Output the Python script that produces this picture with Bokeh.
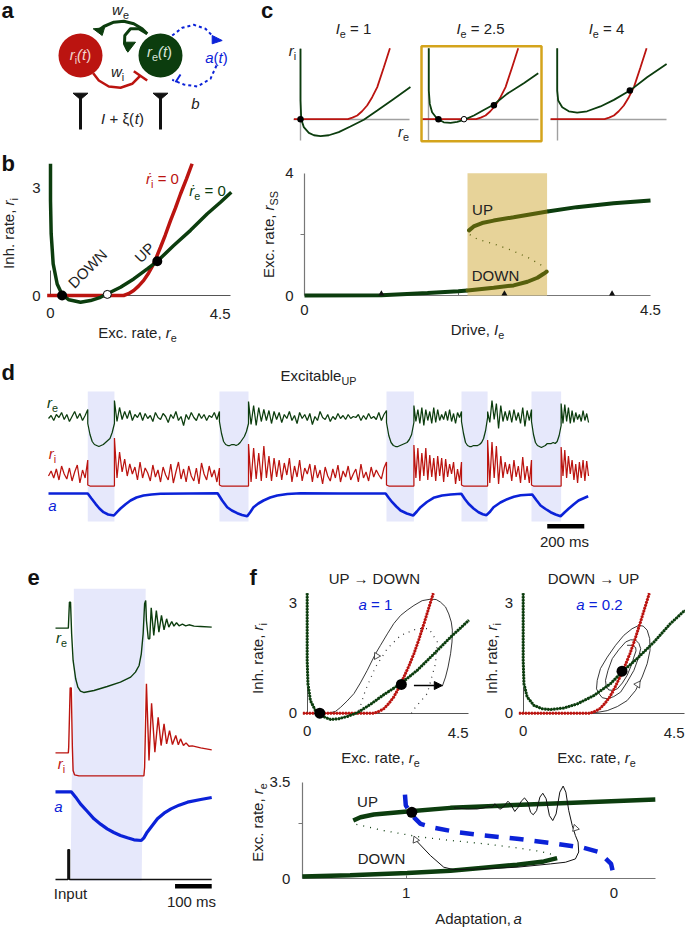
import math
import numpy as np
from bokeh.plotting import figure
from bokeh.layouts import column, row
from bokeh.models import Range1d, LinearAxis, FixedTicker, Arrow, NormalHead
from bokeh.core.properties import value
from bokeh.embed import file_html
from bokeh.resources import INLINE

FONT = "Liberation Sans"
TXT = "#222222"
GREEN = "#0c3d0e"
OLIVE = "#565f0c"
RED = "#bb1410"
BLUE = "#0b22d8"
SHADE = "#e6e8fb"
GOLD = "#d4a41c"

# ---------- panel b: nullclines
b_green_x = [0, 0, .017, .067, .167, .29, .46, .75, 1.0, 1.25, 1.42, 1.75, 2.08, 2.42, 2.67, 3.08, 3.5, 3.92, 4.25, 4.52]
b_green_y = [3.66, 2.64, 1.71, .88, .32, .03, -.12, -.185, -.14, -.05, .05, .23, .46, .74, .95, 1.39, 1.81, 2.27, 2.59, 2.87]
b_red_x = [-.083, 1.83, 1.95, 2.08, 2.2, 2.33, 2.45, 2.58, 2.75, 2.87, 3.0, 3.12, 3.25, 3.4, 3.54]
b_red_y = [0, 0, .05, .14, .26, .42, .62, .88, 1.34, 1.68, 2.08, 2.42, 2.82, 3.24, 3.66]
b_fixed_x = [.29, 2.67]
b_fixed_y = [0, .95]
b_open_x = [1.42]
b_open_y = [.03]

# ---------- panel c: small phase planes
c_red_x = [-.26, 1.87, 2.05, 2.24, 2.43, 2.63, 2.83, 3.03, 3.29, 3.53]
c_red_y = [0, 0, .08, .19, .41, .71, 1.14, 1.66, 2.69, 3.67]
c1_green_x = [0, 0, .03, .13, .33, .53, .79, 1.12, 1.51, 1.97, 2.5, 3.03, 3.68, 4.34]
c1_green_y = [3.64, .97, 0, -.41, -.71, -.83, -.88, -.83, -.67, -.38, -.03, .45, 1.05, 1.66]
c2_green_x = [0, 0, .04, .13, .33, .59, .86, 1.12, 1.41, 1.78, 2.17, 2.57, 3.09, 3.75, 4.32]
c2_green_y = [3.67, 1.48, .79, .36, .02, -.16, -.19, -.14, -.02, .19, .48, .76, 1.31, 1.86, 2.38]
c3_green_x = [0, 0, .04, .2, .46, .79, 1.18, 1.71, 2.24, 2.87, 3.55, 4.32]
c3_green_y = [3.67, 1.48, .97, .62, .41, .34, .41, .66, 1.0, 1.48, 2.17, 2.86]

# ---------- panel c: bifurcation diagram
cb_low_x = [0, 1.0, 1.6, 2.0, 2.12, 2.46, 2.72, 2.9, 3.03, 3.11, 3.15]
cb_low_y = [0, .01, .08, .14, .16, .25, .33, .45, .58, .71, .78]
cb_up_x = [2.14, 2.2, 2.31, 2.46, 2.72, 3.16, 3.54, 4.02, 4.5]
cb_up_y = [2.13, 2.26, 2.37, 2.45, 2.56, 2.75, 2.89, 3.02, 3.11]
cb_mid_x = [2.15, 2.25, 2.46, 2.68, 2.9, 3.07, 3.13]
cb_mid_y = [1.99, 1.84, 1.69, 1.49, 1.25, 1.01, .84]
cb_marks = [1, 2.6, 4]
cb_band = [2.12, 3.155]

# ---------- panel d: time courses (ms); each state has its own list of samples
d_edges = [0, 212, 356, 923, 1080, 1825, 1973, 2230, 2371, 2608, 2768, 2916]
d_re = [
    [29, 32, 27, 33, 30, 35, 28, 33, 26, 31, 36, 29, 34, 27, 32, 38],
    [24, 13, 6, 3, 2, 1, 2, 3, 5, 7, 9, 15, 24],
    [47, 26, 40, 28, 36, 29, 37, 27, 33, 30, 35, 27, 34, 29, 32, 26, 35, 30, 28, 34, 31, 25, 33, 29, 36, 27, 31, 22, 33, 28, 35, 30, 27, 34, 29, 33, 27, 32, 30, 35, 28, 36],
    [26, 14, 6, 3, 2, 2, 3, 3, 2, 3, 5, 8, 11, 16, 24],
    [46, 23, 42, 22, 40, 26, 38, 27, 37, 24, 36, 28, 35, 25, 33, 29, 36, 27, 32, 24, 35, 29, 33, 27, 34, 23, 31, 27, 36, 30, 28, 33, 26, 31, 28, 34, 29, 32, 28, 33, 29, 31, 30, 33, 27, 32, 28, 34, 29, 31, 28, 35, 27, 33, 37],
    [25, 12, 5, 2, 1, 1, 2, 3, 4, 5, 8, 13, 25],
    [42, 26, 38, 24, 40, 22, 38, 27, 36, 24, 40, 25, 38, 27, 33, 28, 36, 27, 38, 26, 34, 24, 35, 30, 36],
    [26, 14, 5, 2, 1, 1, 2, 2, 2, 3, 5, 9, 17, 30],
    [36, 25, 47, 28, 44, 19, 42, 26, 36, 27, 37, 25, 38, 27, 35, 24, 40, 21, 37, 27, 38],
    [26, 13, 5, 2, 1, 0, 1, 2, 4, 4, 4, 5, 4, 6, 12, 22],
    [44, 24, 43, 26, 40, 24, 37, 25, 35, 28, 33, 26, 37, 27, 34, 25],
]
d_ri = [
    [10, 15, 8, 17, 6, 20, 12, 7, 18, 5, 14, 21, 3, 16, 8, 26],
    [1, 0, 0, 0, 0, 0, 0, 0, 0, 0, 0, 0, 0],
    [48, 8, 34, 14, 27, 10, 22, 12, 19, 6, 24, 8, 18, 13, 5, 21, 9, 16, 4, 19, 11, 6, 22, 3, 14, 24, 7, 17, 4, 20, 10, 5, 18, 2, 23, 12, 6, 20, 9, 16, 4, 18],
    [1, 0, 0, 0, 0, 0, 0, 0, 0, 0, 0, 0, 0, 0, 0],
    [42, 4, 38, 7, 33, 5, 40, 8, 30, 5, 28, 9, 26, 6, 23, 11, 28, 4, 20, 9, 26, 5, 18, 12, 22, 4, 21, 8, 16, 2, 19, 10, 5, 17, 8, 21, 4, 15, 9, 20, 6, 12, 17, 4, 22, 8, 14, 5, 19, 9, 16, 11, 7, 18, 24],
    [1, 0, 0, 0, 0, 0, 0, 0, 0, 0, 0, 0, 0],
    [41, 8, 38, 5, 33, 10, 38, 6, 31, 9, 28, 5, 30, 10, 28, 4, 27, 9, 22, 12, 24, 2, 17, 5, 24],
    [1, 0, 0, 0, 0, 0, 0, 0, 0, 0, 0, 0, 0, 0],
    [46, 3, 44, 8, 40, 2, 30, 8, 24, 12, 22, 5, 26, 9, 20, 3, 29, 6, 20, 3, 26],
    [1, 0, 0, 0, 0, 0, 0, 0, 0, 0, 0, 0, 0, 0, 0, 0],
    [39, 10, 36, 8, 30, 12, 26, 6, 22, 3, 24, 8, 26, 5, 25, 10],
]
d_a_t = [0, 212, 232, 254, 275, 297, 322, 353, 371, 389, 416, 443, 475, 513, 556, 605, 913, 938, 965, 990, 1019, 1045, 1073, 1090, 1107, 1133, 1161, 1197, 1235, 1290, 1361, 1577, 1820, 1838, 1856, 1878, 1901, 1935, 1969, 1989, 2009, 2043, 2079, 2125, 2171, 2229, 2248, 2268, 2295, 2322, 2345, 2365, 2385, 2403, 2440, 2477, 2513, 2549, 2612, 2634, 2657, 2684, 2711, 2738, 2765, 2786, 2808, 2835, 2862, 2914]
d_a = [22, 22, 17, 11.7, 7, 3.3, 1, 0, 3.7, 7, 11.3, 15, 18, 20, 21, 21.7, 22.3, 15, 8.3, 5, 2.3, .5, -.7, 3.5, 8.3, 12, 15, 18, 20, 21.5, 22.3, 22, 22, 17.5, 13.3, 9, 5, 2, 0, 4, 8.3, 13.5, 17.7, 20, 21, 21.7, 16.5, 11.7, 7, 3.3, 1.3, .3, 4, 8.3, 13, 16.3, 18.7, 20.3, 21, 15.5, 10, 6.5, 3.3, 1, -.7, 3, 6.7, 11, 15, 19.3]
d_band_start = [212, 923, 1825, 2230, 2608]
d_band_end = [356, 1080, 1973, 2371, 2768]

# ---------- panel e: single transition (ms)
e_re_t = [0, 35, 38, 41, 44, 48, 55, 61, 68, 77, 105, 141, 177, 205, 218, 228, 234, 239, 243, 246, 248, 253, 257, 261, 268, 275, 282, 289, 296, 303, 309, 317, 323, 330, 337, 346, 355, 364, 378, 396, 426]
e_re = [197, 197, 275, 275, 180, 100, 45, 20, 8, 4, 10, 22, 35, 50, 65, 85, 120, 180, 270, 280, 220, 165, 165, 258, 175, 250, 185, 235, 192, 225, 200, 217, 203, 213, 204, 209, 204, 207, 203, 202, 200]
e_ri_t = [0, 35, 36, 40, 43, 46, 48, 52, 64, 241, 243, 248, 255, 262, 271, 280, 288, 296, 303, 311, 319, 328, 335, 341, 349, 356, 364, 373, 396, 426]
e_ri = [73, 73, 90, 268, 268, 90, 20, 7, 4, 4, 30, 280, 50, 222, 75, 180, 95, 160, 100, 140, 98, 125, 97, 115, 95, 103, 93, 94, 88, 82]
e_a_t = [0, 43, 55, 68, 87, 105, 123, 141, 159, 177, 196, 214, 234, 241, 250, 264, 278, 296, 315, 337, 360, 396, 426]
e_a = [146, 146, 130, 110, 87, 65, 49, 35, 24, 15, 8, 2, 0, 8, 25, 45, 65, 82, 95, 106, 115, 123, 129]
e_in_t = [0, 34, 34, 38, 38, 426]
e_in = [0, 0, 89, 89, 0, 0]
e_band_t = [50, 246, 243, 238, 235, 41, 44, 50]
e_band_y = [1, 1, .66, .32, 0, 0, .32, .66]

# ---------- panel f
f1_green_x = [0, 0, .02, .09, .23, .37, .65, .88, 1.11, 1.39, 1.76, 2.13, 2.6, 3.06, 3.53, 3.99, 4.5]
f1_green_y = [3.25, 1.43, .8, .34, .07, -.06, -.17, -.15, -.09, .01, .24, .5, .8, 1.16, 1.61, 2.06, 2.52]
f_red_x = [-.12, 1.86, 2.0, 2.13, 2.27, 2.41, 2.55, 2.69, 2.83, 2.97, 3.11, 3.25, 3.38, 3.51]
f_red_y = [0, 0, .05, .12, .26, .44, .69, .98, 1.28, 1.61, 2.0, 2.43, 2.84, 3.25]
f1_traj_x = [.6, .79, .93, 1.11, 1.3, 1.48, 1.67, 1.9, 2.04, 2.23, 2.41, 2.6, 2.78, 2.97, 3.2, 3.43, 3.59, 3.71, 3.85, 3.94, 4.01, 4.04, 4.03, 3.99, 3.92, 3.85, 3.76]
f1_traj_y = [0, .05, .16, .33, .53, .82, 1.16, 1.61, 1.84, 2.15, 2.43, 2.65, 2.79, 2.92, 3.05, 3.09, 3.08, 3.01, 2.88, 2.69, 2.47, 2.25, 1.93, 1.61, 1.25, .98, .73]
f1_dot_x = [1.44, 1.62, 1.9, 2.23, 2.6, 3.06, 3.39, 3.62, 3.57, 3.34, 3.01, 2.83]
f1_dot_y = [.07, .62, 1.25, 1.75, 2.11, 2.29, 2.29, 1.93, 1.34, .53, .16, -.11]
f2_green_x = [0, 0, .02, .11, .3, .53, .76, 1.13, 1.5, 1.97, 2.43, 2.75, 3.17, 3.64, 4.1, 4.5]
f2_green_y = [3.25, 1.43, .8, .44, .21, .12, .1, .14, .25, .48, .8, 1.12, 1.48, 1.93, 2.43, 2.79]
f2_traj_x = [1.87, 2.11, 2.34, 2.62, 2.89, 3.13, 3.31, 3.45, 3.53, 3.52, 3.45, 3.34, 3.22, 3.03, 2.8, 2.57, 2.34, 2.15, 2.06, 2.04, 2.11, 2.2, 2.34, 2.52, 2.71, 2.89, 3.08, 3.2, 3.27, 3.22, 3.13, 2.99, 2.85, 2.66, 2.48, 2.36, 2.29, 2.31, 2.38, 2.48, 2.62, 2.76, 2.89, 3.01, 3.08, 3.14, 3.13, 3.03, 2.89]
f2_traj_y = [0, .03, .07, .18, .34, .62, .98, 1.34, 1.7, 2.02, 2.25, 2.36, 2.38, 2.29, 2.11, 1.84, 1.52, 1.21, .89, .66, .53, .42, .39, .45, .57, .84, 1.16, 1.48, 1.75, 1.89, 1.98, 1.99, 1.93, 1.72, 1.48, 1.16, .89, .73, .63, .62, .66, .82, 1.02, 1.3, 1.52, 1.69, 1.78, 1.84, 1.84]
f3_up_a = [1.255, 1.22, 1.156, .995, .787, .546, .225, -.2]
f3_up_r = [2.11, 2.23, 2.33, 2.44, 2.57, 2.65, 2.75, 2.87]
f3_low_a = [1.5, 1.27, .995, .787, .626, .466, .337, .273]
f3_low_r = [.08, .13, .21, .29, .4, .51, .63, .75]
f3_mid_a = [1.24, 1.11, .947, .787, .626, .466, .353, .276]
f3_mid_r = [1.97, 1.75, 1.53, 1.39, 1.27, 1.12, .99, .84]
f3_null_a = [1.006, 1.002, .971, .931, .867, .754, .626, .466, .305, .144, .072, .013, -.003]
f3_null_r = [3.05, 2.66, 2.29, 1.99, 1.85, 1.69, 1.57, 1.45, 1.3, 1.12, .97, .54, 0]
f3_traj_a = [.77, .706, .658, .626, .602, .586, .573, .562, .549, .533, .51, .498, .477, .461, .446, .43, .414, .401, .388, .372, .356, .342, .326, .31, .294, .278, .26, .244, .231, .217, .2, .185, .172, .169, .185, .233, .305, .466, .626, .77, .819, .883, .955]
f3_traj_r = [2.57, 2.53, 2.53, 2.57, 2.62, 2.59, 2.72, 2.62, 2.52, 2.59, 2.81, 2.72, 2.44, 2.59, 2.81, 2.93, 2.78, 2.41, 2.32, 2.47, 2.96, 3.1, 2.9, 2.29, 2.11, 2.35, 3.14, 3.36, 3.14, 2.47, 1.93, 1.57, 1.33, .97, .72, .6, .54, .42, .36, .33, .42, .84, 1.41]

# ---------- panel a: schematic
a_green_outer = ([146.7, 141.7, 133.3, 123.3, 113.3, 103.3, 96.7], [33.3, 28.3, 23.3, 20.7, 21.7, 26, 30.7])
a_green_inner = ([146.7, 138.3, 130, 124.3, 124, 127.3], [33.3, 28.3, 28.3, 35, 43.3, 50])
a_red_arc = ([92.7, 98.3, 108.3, 120, 131.7, 140], [72.7, 80, 86, 87.3, 83.3, 75])
a_blue_top = ([171.7, 181.7, 193.3, 205, 213.3], [35, 27.3, 24.3, 28.3, 36.7])
a_blue_bot = ([216, 210, 196.7, 183.3, 171.7], [65, 78.3, 86, 84, 79.3])

WIDTHS = {' ': .278, '.': .278, ',': .278, 'E': .667, 'x': .5, 'c': .5, 'r': .333, 'a': .556, 't': .278, 'e': .556,
          'I': .278, 'n': .556, 'h': .556, '=': .584, 'U': .722, 'P': .667, 'D': .722, 'O': .778, 'W': .944, 'N': .722,
          'i': .222, 'l': .222, '(': .333, ')': .333, '+': .584, 'w': .722, 'v': .5, 'p': .556, 'd': .556, 'b': .556,
          'm': .833, 's': .5, 'S': .667, '\u2192': 1.0, 'f': .278, '\u1e59': .333, '\u03be': .49}
GEO = {}


def tw(s, size):
    return sum(WIDTHS.get(c, .556) for c in s) * size


def anchored(lo, hi, v0, p0, v1, p1):
    k = (v1 - v0) / (p1 - p0)
    return v0 + (lo - p0) * k, v0 + (hi - p0) * k


def panel(left, top, right, bottom, xa, ya):
    xs, xe = anchored(left, right, *xa)
    ys, ye = anchored(bottom, top, *ya)
    p = figure(width=right - left, height=bottom - top, x_range=Range1d(xs, xe), y_range=Range1d(ys, ye),
               output_backend="svg", toolbar_location=None, x_axis_location=None, y_axis_location=None,
               min_border=0, outline_line_color=None, background_fill_alpha=0, border_fill_alpha=0)
    p.grid.visible = False
    GEO[p.id] = (left, top, (xe - xs) / (right - left), (ye - ys) / (top - bottom), xs, ys, bottom)
    return p


def to_data(p, px, py):
    left, top, kx, ky, xs, ys, bottom = GEO[p.id]
    return xs + (px - left) * kx, ys + (py - bottom) * ky


def extra(p, name, v0, p0, v1, p1):
    left, top, kx, ky, xs, ys, bottom = GEO[p.id]
    s, e = anchored(bottom, top, v0, p0, v1, p1)
    p.extra_y_ranges[name] = Range1d(s, e)


def label(p, px, py, segs, size=15, color=TXT, angle=0, align="center", bold=False):
    if isinstance(segs, str):
        segs = [(segs, "")]
    sizes = [size * .72 if "s" in st else size for _, st in segs]
    widths = [tw(t, s) for (t, _), s in zip(segs, sizes)]
    total = sum(widths)
    d = {"center": -total / 2, "right": -total, "left": 0}[align]
    x, y = to_data(p, px, py)
    ca, sa = math.cos(angle), math.sin(angle)
    for (t, st), s, w in zip(segs, sizes, widths):
        e = size * .35 if "s" in st else 0
        style = "bold" if bold else ("italic" if "i" in st else "normal")
        lead = (len(t) - len(t.lstrip())) * .278 * s
        dd = d + lead
        p.text(x=[x], y=[y], text=[t.strip()], x_offset=[dd * ca + e * sa], y_offset=[-dd * sa + e * ca], angle=angle,
               text_font=value(FONT), text_font_size=f"{s:.1f}px", text_font_style=style, text_color=color,
               text_align="left", text_baseline="middle")
        d += w


def axes(p, xb=None, yb=None, xticks=(), yticks=(), xminor=(), yminor=(), color="#666666", lw=1.0,
         xstand=10, ystand=8, tick_in=3, tick_out=4, xat=0, yat=0, size=15):
    def common(ax):
        ax.level = "underlay"
        ax.axis_line_color = color
        ax.axis_line_width = lw
        ax.major_tick_line_color = color
        ax.minor_tick_line_color = color
        ax.major_label_text_font = FONT
        ax.major_label_text_font_size = f"{size}px"
        ax.major_label_text_color = TXT
        ax.major_tick_in = 0
        ax.major_tick_out = 0
    xax = LinearAxis(fixed_location=yat, bounds=xb, ticker=FixedTicker(ticks=list(xticks), minor_ticks=list(xminor)))
    common(xax)
    xax.minor_tick_in = tick_in
    xax.minor_tick_out = 0
    xax.major_label_standoff = xstand
    yax = LinearAxis(fixed_location=xat, bounds=yb, ticker=FixedTicker(ticks=list(yticks), minor_ticks=list(yminor)))
    common(yax)
    yax.minor_tick_in = 0
    yax.minor_tick_out = tick_out
    yax.major_label_standoff = ystand
    p.add_layout(xax, "below")
    p.add_layout(yax, "left")


def letter(p, px, py, s):
    label(p, px, py, s, size=22, color="#111111", bold=True)


RE = [("r", "i"), ("e", "s")]
RI = [("r", "i"), ("i", "s")]
EXC = [("Exc. rate, ", "")] + RE
INH = [("Inh. rate, ", "")] + RI
VERT = math.pi / 2

# ================= panel a
pa = panel(0, 0, 250, 150, (0, 0, 1, 1), (0, 0, 1, 1))
pa.line(*a_green_outer, line_color=GREEN, line_width=3)
pa.line(*a_green_inner, line_color=GREEN, line_width=3)
pa.patch([92.7, 104, 101.7], [28.3, 27.3, 35], color=GREEN)
pa.patch([123.3, 135, 127.3], [41.7, 41.7, 51.7], color=GREEN)
pa.line(*a_red_arc, line_color=RED, line_width=2.5)
pa.line([133.3, 146.7], [70.7, 80], line_color=RED, line_width=2.5)
pa.line(*a_blue_top, line_color=BLUE, line_width=2, line_dash="3 3")
pa.line(*a_blue_bot, line_color=BLUE, line_width=2, line_dash="3 3")
pa.patch([211.7, 221.7, 211.7], [35, 40, 43.3], color=BLUE)
pa.line([175, 180], [81.7, 74], line_color=BLUE, line_width=2)
pa.scatter([80, 160], [55, 55], size=44, marker="circle", fill_color=[RED, GREEN], line_color=None)
for sx in (80, 160):
    pa.line([sx, sx], [94, 129], line_color="#111111", line_width=3)
    pa.patch([sx - 7.5, sx + 7.5, sx], [92.7, 92.7, 99], color="#111111")
label(pa, 80, 54, [("r", "i"), ("i", "s"), ("(", "i"), ("t", "i"), (")", "")], color="#f2d5cc", size=15)
label(pa, 159, 51, [("r", "i"), ("e", "s"), ("(", "i"), ("t", "i"), (")", "")], color="#d8e4d8", size=15)
label(pa, 216, 57, [("a", "i"), ("(", ""), ("t", "i"), (")", "")], color=BLUE)
label(pa, 195, 103, [("b", "i")])
label(pa, 120, 9, [("w", "i"), ("e", "s")])
label(pa, 117, 71, [("w", "i"), ("i", "s")])
label(pa, 122, 118, [("I", "i"), (" + \u03be(", ""), ("t", "i"), (")", "")])
letter(pa, 7, 10, "a")

# ================= panel b
pb = panel(0, 150, 250, 345, (0, 50, 1, 90), (0, 295, 1, 259))
axes(pb, xb=(0, 4.5), yb=(0, .7), xticks=[0], yticks=[0, 3], color="#555555", xstand=12, ystand=10)
pb.line(b_red_x, b_red_y, line_color=RED, line_width=3.5)
pb.line(b_green_x, b_green_y, line_color=GREEN, line_width=3.5)
pb.scatter(b_fixed_x, b_fixed_y, size=10, marker="circle", fill_color="black", line_color=None)
pb.scatter(b_open_x, b_open_y, size=8, marker="circle", fill_color="white", line_color="black", line_width=1)
label(pb, 230, 313, "4.5", align="right")
label(pb, 137, 332, EXC)
label(pb, 8, 233, INH, angle=VERT)
label(pb, 162, 178, [("\u1e59", "i"), ("i", "s"), (" = 0", "")], color=RED)
label(pb, 207, 190, [("\u1e59", "i"), ("e", "s"), (" = 0", "")], color=GREEN)
label(pb, 87, 268, "DOWN", angle=math.pi / 4)
label(pb, 144, 252, "UP", angle=math.pi / 4)
letter(pb, 7, 163, "b")

# ================= panel c, small
def small(left, right, zero, green_x, green_y, dots_x, dots_y, open_x, open_y):
    p = panel(left, 0, right, 150, (0, zero, 1, zero + 76 / 3), (0, 118.7, 1, 118.7 - 58 / 3))
    axes(p, xb=(-.26, 4.32), yb=(-1.1, 3.64), color="#a0a0a0", lw=1.4)
    p.line(c_red_x, c_red_y, line_color=RED, line_width=1.8)
    p.line(green_x, green_y, line_color=GREEN, line_width=1.8)
    p.scatter(dots_x, dots_y, size=6.5, marker="circle", fill_color="black", line_color=None)
    if open_x:
        p.scatter(open_x, open_y, size=5.5, marker="circle", fill_color="white", line_color="black", line_width=1)
    return p


pc1 = small(250, 415, 300, c1_green_x, c1_green_y, [0], [0], [], [])
pc2 = small(415, 546, 428.3, c2_green_x, c2_green_y, [.38, 2.57], [0, .72], [1.39], [0])
pc3 = small(546, 685, 556.67, c3_green_x, c3_green_y, [2.87], [1.48], [], [])
gx0, gy0 = to_data(pc2, 421, 140.7)
gx1, gy1 = to_data(pc2, 541, 45.7)
pc2.quad(left=[gx0], right=[gx1], bottom=[gy0], top=[gy1], fill_color=None, line_color=GOLD, line_width=2.5)
label(pc1, 353, 28, [("I", "i"), ("e", "s"), (" = 1", "")])
label(pc2, 480, 28, [("I", "i"), ("e", "s"), (" = 2.5", "")])
label(pc3, 606, 28, [("I", "i"), ("e", "s"), (" = 4", "")])
label(pc1, 292, 50, RI)
label(pc1, 403, 131, RE)
letter(pc1, 266, 10, "c")

# ================= panel c, bifurcation
pcb = panel(250, 150, 685, 345, (0, 304, 4.5, 650), (0, 295, 4, 172.7))
axes(pcb, xb=(0, 4.5), yb=(0, 4), xticks=[0, 4.5], yticks=[0, 4], xminor=[1, 2, 3, 4], yminor=[2],
     color="#777777", lw=1.2, xstand=9, ystand=7)
pcb.quad(left=[cb_band[0]], right=[cb_band[1]], bottom=[0], top=[4], fill_color="#e7d399", line_color=None)
pcb.line(cb_low_x[:5], cb_low_y[:5], line_color=GREEN, line_width=4)
pcb.line(cb_low_x[4:], cb_low_y[4:], line_color=OLIVE, line_width=4, line_cap="round")
pcb.line(cb_up_x[:6], cb_up_y[:6], line_color=OLIVE, line_width=4, line_cap="round")
pcb.line(cb_up_x[5:], cb_up_y[5:], line_color=GREEN, line_width=4)
pcb.line(cb_mid_x, cb_mid_y, line_color=OLIVE, line_width=1.3, line_dash="1 6")
pcb.scatter(cb_marks, [.06] * 3, size=6, marker="triangle", fill_color="#111111", line_color=None)
label(pcb, 482, 209, "UP")
label(pcb, 495, 275, "DOWN")
label(pcb, 477, 329, [("Drive, ", ""), ("I", "i"), ("e", "s")])
label(pcb, 268, 234, [("Exc. rate, ", ""), ("r", "i"), ("SS", "s")], angle=VERT)

# ================= panel d
pd_ = panel(0, 345, 685, 553, (0, 48, 200, 85.04), (0, 521, 1, 391))
extra(pd_, "re", 0, 447, 10, 437)
extra(pd_, "ri", 0, 485.5, 10, 475.5)
extra(pd_, "a", 0, 515, 10, 505)
pd_.quad(left=d_band_start, right=d_band_end, bottom=[0] * 5, top=[1] * 5, fill_color=SHADE, line_color=None)


def stitched(segs):
    ts, vs = [], []
    for i, s in enumerate(segs):
        ts.append(np.linspace(d_edges[i], d_edges[i + 1], len(s)))
        vs.append(np.array(s, dtype=float))
    return np.concatenate(ts), np.concatenate(vs)


t_re, v_re = stitched(d_re)
t_ri, v_ri = stitched(d_ri)
pd_.line(t_re, v_re, y_range_name="re", line_color=GREEN, line_width=1.25)
pd_.line(t_ri, v_ri, y_range_name="ri", line_color=RED, line_width=1.25)
pd_.line(d_a_t, d_a, y_range_name="a", line_color=BLUE, line_width=2.6)
pd_.line([2693, 2893], [-.036, -.036], line_color="black", line_width=4.5)
label(pd_, 564, 541, "200 ms")
label(pd_, 318, 375, [("Excitable", ""), ("UP", "s")])
label(pd_, 52, 402, RE, color=GREEN)
label(pd_, 52, 453, RI, color=RED)
label(pd_, 52, 505, [("a", "i")], color=BLUE)
letter(pd_, 7, 372, "d")

# ================= panel e
pe = panel(0, 553, 245, 927, (0, 55, 100, 91.67), (0, 880, 1, 588.3))
extra(pe, "re", 0, 693.3, 300, 593.3)
extra(pe, "ri", 0, 776.7, 300, 676.7)
extra(pe, "a", 0, 840, 300, 740)
extra(pe, "in", 0, 879, 300, 779)
pe.patch(e_band_t, e_band_y, fill_color=SHADE, line_color=None)
pe.line(e_re_t, e_re, y_range_name="re", line_color=GREEN, line_width=1.4)
pe.line(e_ri_t, e_ri, y_range_name="ri", line_color=RED, line_width=1.4)
pe.line(e_a_t, e_a, y_range_name="a", line_color=BLUE, line_width=3.2)
pe.line(e_in_t, e_in, y_range_name="in", line_color="#111111", line_width=1.6)
pe.line([326, 426], [-.02, -.02], line_color="black", line_width=4.5)
label(pe, 70, 893, "Input")
label(pe, 191, 901, "100 ms")
label(pe, 61, 637, RE, color=GREEN)
label(pe, 61, 763, RI, color=RED)
label(pe, 58, 806, [("a", "i")], color=BLUE)
letter(pe, 33, 577, "e")

# ================= panel f, phase planes
def phase(left, right, zero, green_x, green_y, traj_x, traj_y):
    p = panel(left, 553, right, 770, (0, zero, 4.5, zero + 161.7), (0, 712.7, 3, 602))
    axes(p, xb=(0, 4.5), yb=(0, .7), xticks=[0], yticks=[0, 3], color="#555555", xstand=13, ystand=10)
    p.line(traj_x, traj_y, line_color="#222222", line_width=.9)
    p.line(f_red_x, f_red_y, line_color=RED, line_width=1.6)
    p.line(f_red_x, f_red_y, line_color=RED, line_width=3, line_dash="2 1")
    p.line(green_x, green_y, line_color=GREEN, line_width=1.6)
    p.line(green_x, green_y, line_color=GREEN, line_width=3, line_dash="2 1")
    return p


pf1 = phase(245, 480, 306.7, f1_green_x, f1_green_y, f1_traj_x, f1_traj_y)
pf2 = phase(480, 685, 522.7, f2_green_x, f2_green_y, f2_traj_x, f2_traj_y)
pf1.line(f1_dot_x, f1_dot_y, line_color="#333333", line_width=1.2, line_dash="1 5")
pf1.add_layout(Arrow(end=NormalHead(size=8, fill_color="black", line_color="black"),
                     x_start=2.97, y_start=.75, x_end=3.76, y_end=.75, line_color="black", line_width=1.5))
pf1.scatter([.35, 2.62], [0, .78], size=11, marker="circle", fill_color="black", line_color=None)
pf2.scatter([2.75], [1.14], size=11, marker="circle", fill_color="black", line_color=None)
pf1.scatter([1.93], [1.55], size=7, marker="triangle", angle=2.6, fill_color="white", line_color="#222222", line_width=.8)
pf2.scatter([3.19], [.78], size=7, marker="triangle", angle=-.6, fill_color="white", line_color="#222222", line_width=.8)
label(pf1, 468, 732, "4.5", align="right")
label(pf2, 684, 732, "4.5", align="right")
label(pf1, 380, 757, EXC)
label(pf2, 596, 757, EXC)
label(pf1, 257, 658, INH, angle=VERT)
label(pf2, 491, 658, INH, angle=VERT)
label(pf1, 374, 578, "UP \u2192 DOWN")
label(pf2, 593, 578, "DOWN \u2192 UP")
label(pf1, 375, 604, [("a", "i"), (" = 1", "")], color=BLUE)
label(pf2, 599, 604, [("a", "i"), (" = 0.2", "")], color=BLUE)
letter(pf1, 252, 577, "f")

# ================= panel f, adaptation
pf3 = panel(245, 770, 685, 927, (1, 405.7, 0, 613.3), (0, 878.3, 3.5, 781.7))
axes(pf3, xb=(-.2, 1.5), yb=(0, 3.5), xticks=[1, 0], yticks=[0, 3.5], yminor=[2], xminor=[1], color="#777777",
     lw=1.2, xstand=9, ystand=8, xat=1.5)
pf3.line(f3_mid_a, f3_mid_r, line_color=GREEN, line_width=1.3, line_dash="1 6")
pf3.line(f3_up_a, f3_up_r, line_color=GREEN, line_width=4.5)
pf3.line(f3_low_a, f3_low_r, line_color=GREEN, line_width=4.5)
pf3.line(f3_null_a, f3_null_r, line_color=BLUE, line_width=4.5, line_dash="14 11")
pf3.line(f3_traj_a, f3_traj_r, line_color="#111111", line_width=1)
pf3.scatter([.973], [2.41], size=11, marker="circle", fill_color="black", line_color=None)
pf3.scatter([.185], [1.83], size=7, marker="triangle", angle=.3, fill_color="white", line_color="#222222", line_width=.8)
pf3.scatter([.955], [1.41], size=7, marker="triangle", angle=.4, fill_color="white", line_color="#222222", line_width=.8)
label(pf3, 367, 801, "UP")
label(pf3, 381, 858, "DOWN")
label(pf3, 478, 918, [("Adaptation, ", ""), ("a", "i")])
label(pf3, 257, 822, EXC, angle=VERT)

layout = column(
    row(column(pa, pb, spacing=0),
        column(row(pc1, pc2, pc3, spacing=0), pcb, spacing=0), spacing=0),
    pd_,
    row(pe, column(row(pf1, pf2, spacing=0), pf3, spacing=0), spacing=0),
    spacing=0,
    styles={"position": "absolute", "left": "0px", "top": "0px"},
)
open("out.html", "w").write(file_html(layout, INLINE))
